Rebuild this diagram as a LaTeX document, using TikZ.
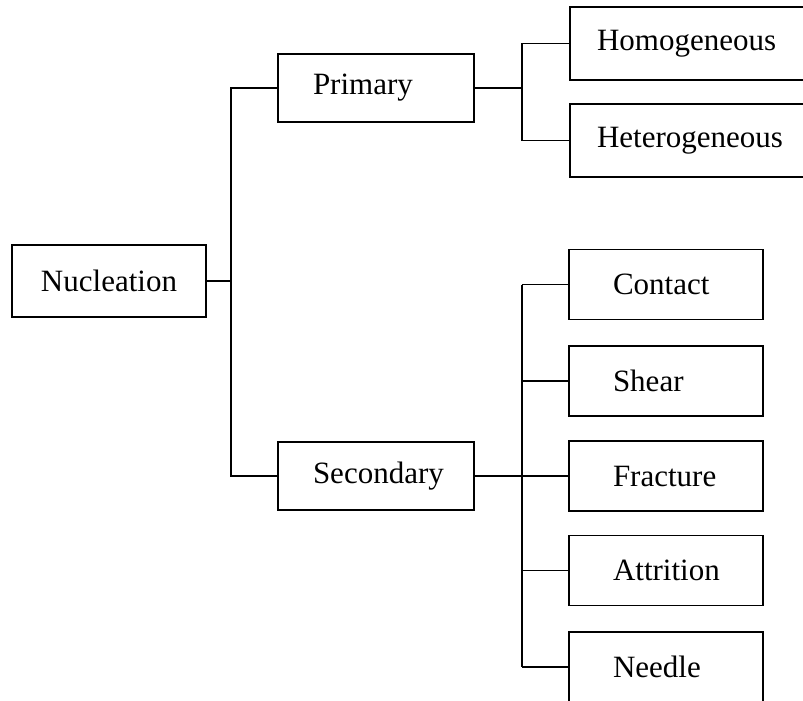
\documentclass[tikz,border=0pt]{standalone}
\usepackage{fontspec}
\setmainfont{Liberation Serif}
\usepackage{tikz}

\tikzset{
  box/.style={draw, line width=1.2pt, inner ysep=0pt, align=left,
    font=\fontsize{31}{36}\selectfont},
  rootbox/.style={box, align=center, minimum width=194pt, minimum height=72pt},
  midbox/.style={box, inner xsep=35pt, text width=126pt, minimum height=68pt},
  kindbox/.style={box, inner xsep=27pt, text width=186pt, minimum height=73pt},
  leafbox/.style={box, inner xsep=44pt, text width=106pt, minimum height=70pt},
  link/.style={line width=1.2pt}
}

\begin{document}
\begin{tikzpicture}[x=1pt, y=-1pt]
\useasboundingbox (0,0) rectangle (803,701);

% trunks of the tree
\coordinate (t1) at (231,0);
\coordinate (t2) at (522,0);

% boxes
\node[rootbox] (nuc) at (109,281) {Nucleation};
\node[midbox] (pri) at (376,88) {Primary};
\node[midbox] (sec) at (376,476) {Secondary};
\node[kindbox] (hom) at (690,43.5) {Homogeneous};
\node[kindbox] (het) at (690,140.5) {Heterogeneous};
\node[leafbox] (con) at (666,284.5) {Contact};
\node[leafbox] (she) at (666,381) {Shear};
\node[leafbox] (fra) at (666,476) {Fracture};
\node[leafbox] (att) at (666,570.5) {Attrition};
\node[leafbox] (nee) at (666,667) {Needle};

% connectors
\draw[link] (nuc.east) -- (nuc.east -| t1);
\draw[link] (pri.west) -- (pri.west -| t1) -- (sec.west -| t1) -- (sec.west);
\draw[link] (pri.east) -- (pri.east -| t2);
\draw[link] (hom.west) -- (hom.west -| t2) -- (het.west -| t2) -- (het.west);
\draw[link] (sec.east) -- (sec.east -| t2);
\draw[link] (con.west -| t2) -- (nee.west -| t2);
\foreach \n in {con,she,fra,att,nee}
    \draw[link] (\n.west) -- (\n.west -| t2);
\end{tikzpicture}
\end{document}
